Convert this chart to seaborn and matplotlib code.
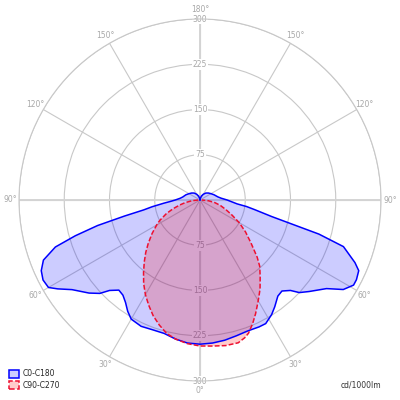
import numpy as np
import pandas as pd
import matplotlib
matplotlib.use("Agg")
import matplotlib.pyplot as plt
from matplotlib.patches import Patch
import seaborn as sns

sns.set_style("white")
plt.rcParams["font.family"] = ["DejaVu Sans"]

# ---------------------------------------------------------------
# Luminous intensity (cd/1000lm)
# gamma = angle from nadir, left half and right half of each C-plane
# ---------------------------------------------------------------
c0_gamma_left = [0, 5, 10, 15, 20, 25, 30, 33, 36, 39, 42, 45, 47, 50, 55, 58, 60, 63,
                 66, 69, 72, 74, 76, 78, 80, 82, 85, 87, 90, 95, 100, 110, 120, 130,
                 140, 150, 160, 170, 180]
c0_r_left = [239, 238, 234, 229, 229, 231, 228, 220, 210, 203, 201, 212, 227, 240, 259,
             278, 290, 292, 288, 278, 252, 215, 175, 128, 95, 80, 60, 50, 41, 33, 29, 25,
             21, 18, 15, 11, 7, 3, 0]
c0_gamma_right = [0, 5, 10, 15, 20, 25, 28, 32, 35, 39, 42, 45, 47, 50, 55, 58, 61, 63,
                  66, 68, 72, 74, 77, 80, 82, 84, 87, 90, 95, 100, 110, 120, 130, 140,
                  150, 160, 170, 180]
c0_r_right = [239, 238, 236, 233, 231, 232, 232, 224, 216, 205, 203, 212, 225, 236, 256,
              280, 291, 291, 288, 277, 250, 205, 122, 92, 78, 62, 52, 45, 35, 30, 25, 21,
              18, 15, 11, 7, 3, 0]

c90_gamma_left = [0, 5, 10, 14, 18, 22, 26, 30, 34, 38, 42, 46, 50, 55, 60, 63, 68, 72,
                  76, 80, 85, 90]
c90_r_left = [242, 239, 234, 228, 218, 207, 194, 181, 167, 152, 138, 125, 112, 97, 83,
              75, 60, 47, 35, 25, 13, 3]
c90_gamma_right = [0, 5, 10, 15, 18, 20, 23, 26, 30, 34, 38, 42, 45, 50, 55, 60, 65, 70,
                   75, 80, 85, 90]
c90_r_right = [242, 243, 245, 245, 240, 235, 223, 210, 193, 178, 162, 148, 134, 110, 92,
               75, 58, 45, 35, 25, 14, 3]

ring_values = [75, 150, 225, 300]
angle_ticks = [0, 30, 60, 90, 120, 150, 180, -30, -60, -90, -120, -150]

BLUE = "#0000ff"
RED = "#ee1030"
GRID = "#c8c8c8"
LABEL = "#a8a8a8"


def closed_curve(g_left, r_left, g_right, r_right):
    # left half drawn at negative theta, right half at positive theta
    theta = np.concatenate([-np.array(g_left[::-1], float), np.array(g_right[1:], float)])
    r = np.concatenate([np.array(r_left[::-1], float), np.array(r_right[1:], float)])
    return pd.DataFrame({"theta": np.deg2rad(theta), "r": r})


c0 = closed_curve(c0_gamma_left, c0_r_left, c0_gamma_right, c0_r_right)
c90 = closed_curve(c90_gamma_left, c90_r_left, c90_gamma_right, c90_r_right)

fig = plt.figure(figsize=(4, 4), dpi=100)
ax = fig.add_axes([0.0475, 0.0475, 0.905, 0.905], projection="polar")
ax.set_theta_zero_location("S")
ax.set_theta_direction(1)

# grid
ax.set_thetagrids(range(0, 360, 30), labels=[])
ax.set_rgrids(ring_values, labels=[])
ax.grid(True, color=GRID, linewidth=0.8)
ax.spines["polar"].set_color(GRID)
ax.spines["polar"].set_linewidth(0.8)
ax.set_axisbelow(True)
for t in [0, np.pi / 2, np.pi, 3 * np.pi / 2]:
    ax.plot([t, t], [0, 300], color="#d4d4d4", linewidth=1.4, zorder=1)

# ring value labels on the vertical axis
for v in ring_values:
    for t in [0, np.pi]:
        ax.text(t, v, str(v), ha="center", va="center", fontsize=5.5, color=LABEL,
                zorder=1.5, bbox=dict(boxstyle="square,pad=0.1", fc="white", ec="none"))

# angle labels outside the outer ring
for a in angle_ticks:
    ax.text(np.deg2rad(a), 315, f"{abs(a)}°", ha="center", va="center",
            fontsize=5.5, color=LABEL, clip_on=False)

# curves
ax.fill(c0["theta"], c0["r"], color=BLUE, alpha=0.2, linewidth=0, zorder=2)
ax.fill(c90["theta"], c90["r"], color="#ff0000", alpha=0.2, linewidth=0, zorder=2.1)
sns.lineplot(data=c0, x="theta", y="r", sort=False, estimator=None, ax=ax,
             color=BLUE, linewidth=1.1, zorder=3)
sns.lineplot(data=c90, x="theta", y="r", sort=False, estimator=None, ax=ax,
             color=RED, linewidth=1.1, linestyle=(0, (3.2, 1.4)), zorder=3.1)

ax.set_xlabel("")
ax.set_ylabel("")
ax.set_rlim(0, 300)

handles = [
    Patch(facecolor=(0, 0, 1, 0.2), edgecolor=BLUE, linewidth=1.1),
    Patch(facecolor=(1, 0, 0, 0.2), edgecolor=RED, linewidth=1.1, linestyle="--"),
]
fig.legend(handles, ["C0-C180", "C90-C270"], loc="lower left",
           bbox_to_anchor=(0.01, 0.012), frameon=False, fontsize=5.5,
           handlelength=1.25, handleheight=1.25, handletextpad=0.5, labelspacing=0.35,
           borderpad=0.2)
fig.text(0.953, 0.037, "cd/1000lm", ha="right", va="center", fontsize=5.5, color="#333333")

fig.savefig("out.png", dpi=100)
